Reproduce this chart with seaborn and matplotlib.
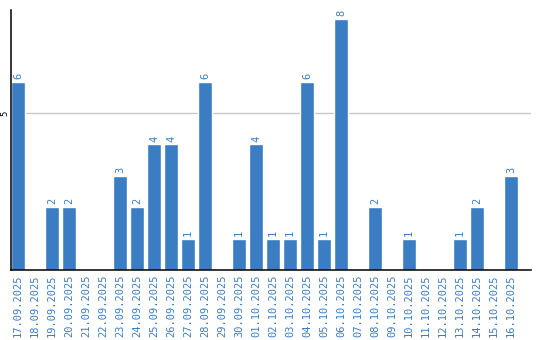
import matplotlib
matplotlib.use("Agg")
import matplotlib.pyplot as plt
import seaborn as sns
import pandas as pd

dates = ["17.09.2025", "18.09.2025", "19.09.2025", "20.09.2025", "21.09.2025",
         "22.09.2025", "23.09.2025", "24.09.2025", "25.09.2025", "26.09.2025",
         "27.09.2025", "28.09.2025", "29.09.2025", "30.09.2025", "01.10.2025",
         "02.10.2025", "03.10.2025", "04.10.2025", "05.10.2025", "06.10.2025",
         "07.10.2025", "08.10.2025", "09.10.2025", "10.10.2025", "11.10.2025",
         "12.10.2025", "13.10.2025", "14.10.2025", "15.10.2025", "16.10.2025"]
counts = [6, 0, 2, 2, 0, 0, 3, 2, 4, 4, 1, 6, 0, 1, 4, 1, 1, 6, 1, 8,
          0, 2, 0, 1, 0, 0, 1, 2, 0, 3]

sns.set_style("white")
plt.rcParams['font.family'] = ['DejaVu Sans Mono', 'DejaVu Sans']

df = pd.DataFrame({"date": dates, "count": counts})
blue = "#3a7dc2"

fig = plt.figure(figsize=(5.4, 3.4), dpi=100)
ax = fig.add_axes([11/540, 1 - 270/340, 520/540, 260/340])
sns.barplot(data=df, x="date", y="count", color=blue, width=0.82,
            saturation=1, ax=ax, zorder=2)

ax.set_xlim(-0.41, 30.18)
ax.set_ylim(0, 8.28)
ax.set_yticks([5])
ax.set_yticklabels(["5"], rotation=90, va="center", fontsize=6.5, color="black")
ax.yaxis.grid(True, color="#c8c8c8", linewidth=1)
ax.tick_params(axis="y", length=0, pad=1)
ax.tick_params(axis="x", length=0, pad=3, labelsize=7.5, labelcolor=blue)
for lbl in ax.get_xticklabels():
    lbl.set_rotation(90)
ax.set_xlabel("")
ax.set_ylabel("")

for s in ["top", "right"]:
    ax.spines[s].set_visible(False)
for s in ["left", "bottom"]:
    ax.spines[s].set_color("black")
    ax.spines[s].set_linewidth(1.1)

for i, v in enumerate(counts):
    if v > 0:
        ax.annotate(str(v), (i, v), xytext=(0, 2), textcoords="offset points",
                    rotation=90, ha="center", va="bottom", fontsize=7.5,
                    color=blue)

fig.savefig("out.png", dpi=100)
